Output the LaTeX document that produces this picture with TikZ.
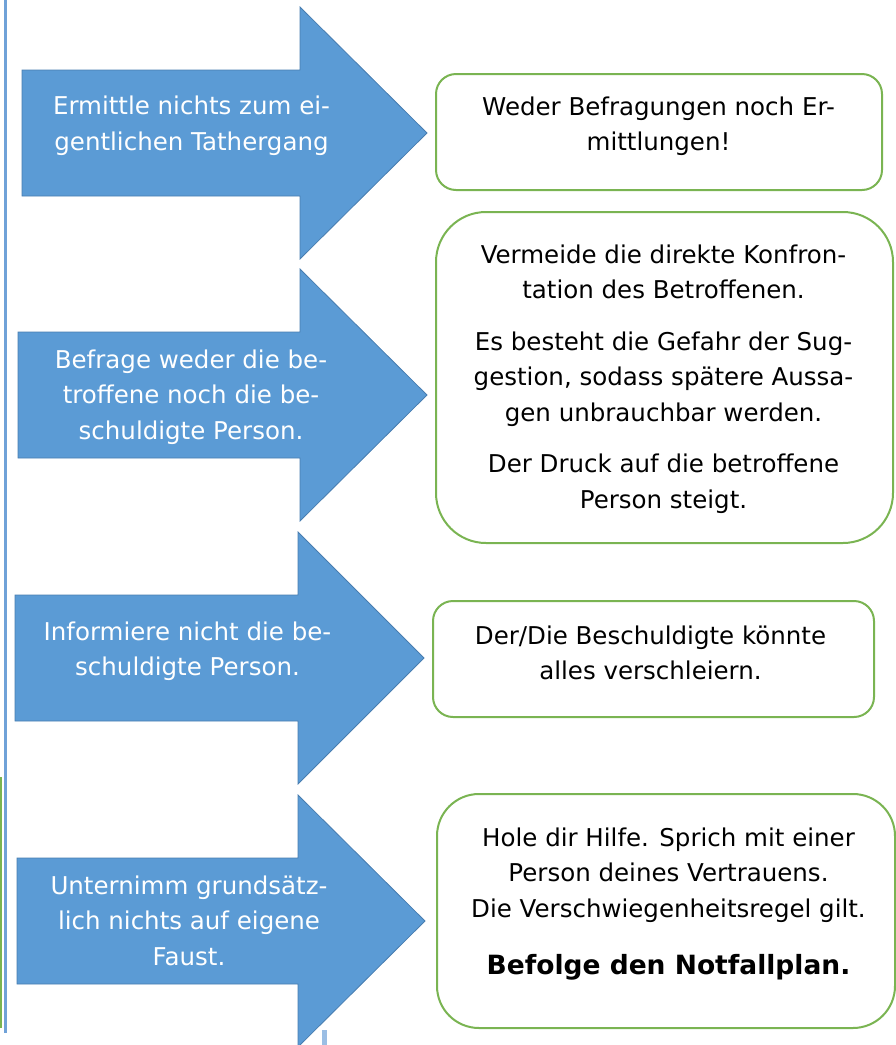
\documentclass[tikz,border=0pt]{standalone}
\usepackage{fontspec}
\setmainfont{DejaVu Sans}
\usepackage{tikz}
\usetikzlibrary{positioning}

\definecolor{pfeilblau}{RGB}{91,155,213}
\definecolor{pfeilrand}{RGB}{72,125,176}
\definecolor{rahmengruen}{RGB}{122,180,82}
\definecolor{linienblau}{RGB}{112,162,216}

\begin{document}
\begin{tikzpicture}[
    x=1pt, y=-1pt,
    pfeil/.style={fill=pfeilblau, draw=pfeilrand, line width=0.8pt, line join=miter},
    pfeiltext/.style={text=white, align=center, inner sep=0pt, anchor=north, font=\fontsize{24.5}{35.5}\selectfont},
    kasten/.style={draw=rahmengruen, line width=2pt, fill=white, inner sep=0pt},
    kastentext/.style={text=black, align=center, inner sep=0pt, anchor=north, font=\fontsize{24.5}{35.5}\selectfont}
]
\useasboundingbox (0,0) rectangle (896,1045);

% Linien am linken Rand
\draw[linienblau, line width=2.6pt] (5.5,0) -- (5.5,1033);
\draw[rahmengruen, line width=1.6pt] (0.8,777) -- (0.8,1028);
\fill[linienblau!70] (322,1030) rectangle (327,1045);

% Pfeile
\foreach \cy/\lx/\bx/\tx in {133/22/300/427, 395/18/300/427, 658/15/298/424, 921/17/298/425}
  \filldraw[pfeil] (\lx,\cy-63) -- (\bx,\cy-63) -- (\bx,\cy-126) -- (\tx,\cy)
    -- (\bx,\cy+126) -- (\bx,\cy+63) -- (\lx,\cy+63) -- cycle;

\node[pfeiltext] (p1) at (191.5,89.65) {\strut Ermittle nichts zum ei-\\gentlichen Tathergang};
\node[pfeiltext] (p2) at (191,343.15) {\strut Befrage weder die be-\\troffene noch die be-\\schuldigte Person.};
\node[pfeiltext] (p3) at (187.5,615.15) {\strut Informiere nicht die be-\\schuldigte Person.};
\node[pfeiltext] (p4) at (189,869.15) {\strut Unternimm grundsätz-\\lich nichts auf eigene\\Faust.};

% Kaesten
\node[kasten, rounded corners=20pt, minimum width=446pt, minimum height=116pt] (k1) at (659,132) {};
\node[kasten, rounded corners=50pt, minimum width=457pt, minimum height=331pt] (k2) at (664.5,377.5) {};
\node[kasten, rounded corners=20pt, minimum width=441pt, minimum height=116pt] (k3) at (653.5,659) {};
\node[kasten, rounded corners=42pt, minimum width=458pt, minimum height=234pt] (k4) at (666,911) {};

\node[kastentext] (t1) at (658.5,90.15) {\strut Weder Befragungen noch Er-\\mittlungen!};
\node[kastentext] (t2) at (663.5,238.15) {\strut Vermeide die direkte Konfron-\\tation des Betroffenen.\\[16pt]
  Es besteht die Gefahr der Sug-\\gestion, sodass spätere Aussa-\\gen unbrauchbar werden.\\[16pt]
  Der Druck auf die betroffene\\Person steigt.};
\node[kastentext] (t3) at (650.5,619.15) {\strut Der/Die Beschuldigte könnte\\alles verschleiern.};
\node[kastentext] (t4) at (668.5,821.15) {\strut Hole dir Hilfe. Sprich mit einer\\Person deines Vertrauens.\\Die Verschwiegenheitsregel gilt.\\[21.5pt]
  {\fontsize{26.5}{35.5}\selectfont\bfseries Befolge den Notfallplan.}};

\end{tikzpicture}
\end{document}
